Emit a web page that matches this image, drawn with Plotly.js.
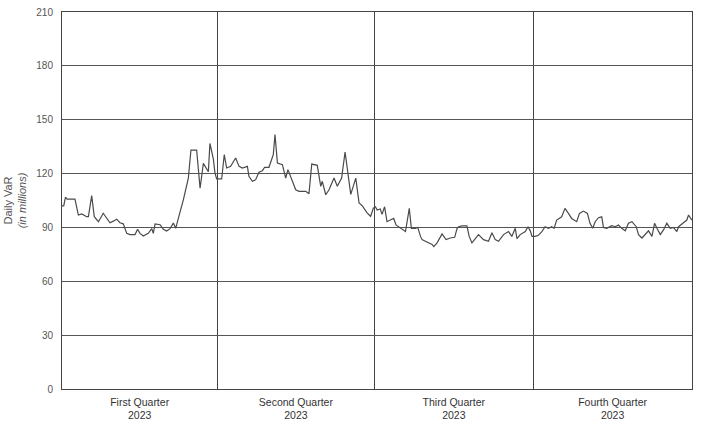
<!DOCTYPE html>
<html>
<head>
<meta charset="utf-8">
<script src="https://cdn.plot.ly/plotly-3.0.1.min.js"></script>
<style>html,body{margin:0;padding:0;background:#fff;}#chart{width:702px;height:428px;}</style>
</head>
<body>
<div id="chart"></div>
<script>
// Day of year 2023 (0 = Jan 1) and daily VaR in millions
var days = [0,1,2,3,7.5,9.5,11.4,14.3,15.3,17.2,18.7,21.1,23.9,25.9,27.8,29.7,31.7,33.6,35.5,37.5,39.4,42.3,43.8,45.2,47.1,50,52,52.9,53.9,56.8,58.7,60.6,62.6,64.5,65.9,67.4,70.3,73.2,74.7,78,80,81.9,84.8,85.7,87.7,88.6,89.6,92.5,
  94,95.4,97.7,100.6,102.6,104.5,107.4,108.3,110.3,112.2,114.1,116.1,117.4,119.9,120.9,122.4,123.4,124.8,127.7,129.6,130.9,133.5,135.4,137.3,141.2,143.1,144.7,147.9,149.9,150.8,152.8,154.7,157.6,159.5,162,164,165.3,167.3,170.2,172.1,174,176.9,178.8,
  180.4,181.6,182.6,184.4,185.4,186.9,188.3,190.2,192.2,193.5,196.1,199,201.2,202.4,204.7,206.1,207.7,208.6,210.5,212.5,214.4,215.4,217.3,220.2,222.5,225,227.5,228.9,229.8,231.7,234.6,235.9,237.5,241.3,244.2,247.1,249.1,251,252.9,255.8,258.7,260.6,262.6,263.6,265.5,268.4,270,271.3,272.3,
  274.2,276,278,279.9,281.8,283.7,285.1,286.6,289.5,291.4,293.4,295.3,298.2,299.8,302.1,304.4,305.9,307.5,308.9,310.8,312.7,313.7,315.6,318.5,320.5,322.4,324.3,326.3,328.2,330.2,332.7,334,336,337.9,339.8,341.8,343.3,344.7,346.6,348.5,350.4,352.4,354.3,356.2,357.2,359.7,362,363,364.9];
var dailyVaR = [102,102,106.8,105.8,105.8,96.9,97.5,96,96,107.7,96,93.2,97.9,95,92.6,93.5,94.6,92.6,92,86.7,86,86,89,86.7,85.2,86.7,89.3,86.7,92,91.5,89,88,89.3,92.4,89.5,95,105.3,117.4,133.1,133.1,111.8,125.7,121,136.8,128,120.4,117,117,
  130.5,123.1,124,128.7,124,123.1,124,118.5,115.7,116.6,120.7,121.6,123.5,123.5,126.8,130.5,141.7,125.9,125,117.5,122.2,115.7,111,110.1,110.1,108.8,125.3,124.6,112.9,115.7,108.2,111,117.5,112.9,117.5,132,121.3,108.4,117.5,103.6,102,98,96.2,
  100.8,101.5,99.7,100.3,97.3,101.5,93.2,94.1,95,91.4,89.5,87.7,100.6,89.5,89.5,90,85,83.2,82.3,81.4,80.5,79.3,81.4,86.4,83.2,84.1,84.5,89.5,90.4,90.9,90.9,85,81.4,86,83.2,82.3,87,83.2,82.3,86,87.7,85,89.5,83.7,86,87.7,90.4,88.1,85,
  85,85.6,87.7,90.4,89.5,90.4,89.5,94.1,95.9,100.6,97.8,95,93.2,97.8,99.1,97.8,92.3,89.5,93.2,95.4,95.9,90,89.5,91,90.4,91.3,89.5,88.1,92.3,93.2,90.4,86,84.1,86,88.1,85,92.3,89.5,86,88.6,92.3,89.5,90,87.7,90.4,92.3,94.1,96.9,94.1];
var quarterMid = [45, 135.5, 227, 319];
var quarterLabels = ['First Quarter<br>2023', 'Second Quarter<br>2023', 'Third Quarter<br>2023', 'Fourth Quarter<br>2023'];
var quarterStarts = [90, 181, 273];
var yTicks = [0, 30, 60, 90, 120, 150, 180, 210];

var trace = {
  x: days, y: dailyVaR, type: 'scatter', mode: 'lines',
  line: {color: '#4a4a4a', width: 1.2}, hoverinfo: 'skip'
};
var layout = {
  width: 702, height: 428,
  margin: {l: 62, r: 10, t: 12, b: 39},
  paper_bgcolor: '#fff', plot_bgcolor: '#fff',
  showlegend: false,
  font: {family: 'Liberation Sans, Arial, sans-serif', color: '#333'},
  xaxis: {
    range: [0, 365], tickmode: 'array', tickvals: quarterMid, ticktext: quarterLabels,
    showgrid: false, zeroline: false, ticks: '',
    showline: true, mirror: true, linecolor: '#444', linewidth: 1,
    tickfont: {size: 10.5, color: '#333'}, ticklabelstandoff: 3,
    minor: {tickmode: 'array', tickvals: quarterStarts, showgrid: true, gridcolor: '#444', gridwidth: 1, ticks: ''}
  },
  yaxis: {
    range: [0, 210], tickmode: 'array', tickvals: yTicks,
    showgrid: true, gridcolor: '#555', gridwidth: 1, zeroline: false,
    showline: true, mirror: true, linecolor: '#444', linewidth: 1,
    tickfont: {size: 10, color: '#555'}, ticklabelstandoff: 6,
    title: {text: 'Daily VaR<br><i>(in millions)</i>', font: {size: 11, color: '#555'}, standoff: 7}
  }
};
Plotly.newPlot('chart', [trace], layout, {staticPlot: true, displayModeBar: false});
</script>
</body>
</html>
